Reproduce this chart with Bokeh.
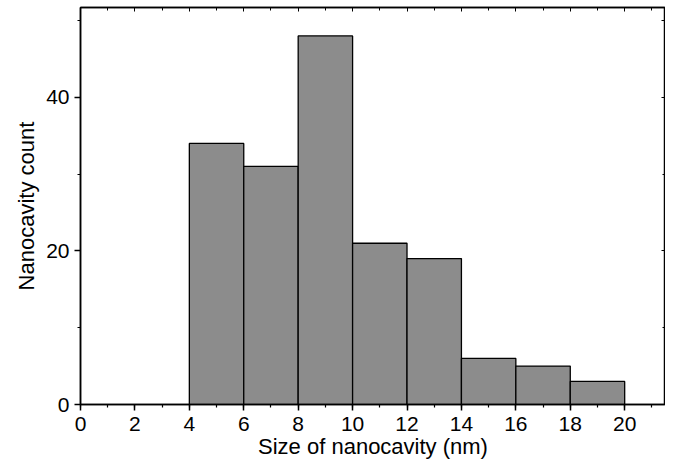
from bokeh.plotting import figure
from bokeh.models import Range1d, LinearAxis, FixedTicker
from bokeh.embed import file_html
from bokeh.resources import INLINE

bin_left = [4, 6, 8, 10, 12, 14, 16, 18]
bin_right = [6, 8, 10, 12, 14, 16, 18, 20]
counts = [34, 31, 48, 21, 19, 6, 5, 3]
x_ticks = [0, 2, 4, 6, 8, 10, 12, 14, 16, 18, 20]
y_ticks = [0, 20, 40]

FONT = "Liberation Sans"

p = figure(width=665, height=461, output_backend="svg", toolbar_location=None,
           x_range=Range1d(0, 21.5), y_range=Range1d(0, 51.7),
           x_axis_label="Size of nanocavity (nm)", y_axis_label="Nanocavity count")
p.min_border_left = 80
p.min_border_right = 0
p.min_border_top = 7
p.min_border_bottom = 0
p.grid.visible = False
p.outline_line_color = "black"
p.outline_line_width = 1.5

p.quad(left=bin_left, right=bin_right, bottom=0, top=counts,
       fill_color="#8c8c8c", line_color="black", line_width=1.3)

for ax in [p.xaxis[0], p.yaxis[0]]:
    ax.axis_line_width = 1.5
    ax.major_tick_line_width = 1.5
    ax.minor_tick_line_width = 1.2
    ax.major_tick_out = 6
    ax.major_tick_in = 0
    ax.minor_tick_out = 3
    ax.minor_tick_in = 0
    ax.major_label_text_font = FONT
    ax.major_label_text_font_size = "21px"
    ax.major_label_text_color = "black"
    ax.axis_label_text_font = FONT
    ax.axis_label_text_font_size = "22px"
    ax.axis_label_text_font_style = "normal"
    ax.axis_label_text_color = "black"

p.xaxis[0].ticker = FixedTicker(ticks=x_ticks, minor_ticks=list(range(0, 22)))
p.yaxis[0].ticker = FixedTicker(ticks=y_ticks, minor_ticks=[0, 10, 20, 30, 40, 50])
p.xaxis[0].major_label_standoff = 6
p.yaxis[0].major_label_standoff = 5
p.xaxis[0].axis_label_standoff = 0
p.yaxis[0].axis_label_standoff = 4

top = LinearAxis(ticker=FixedTicker(ticks=x_ticks, minor_ticks=list(range(0, 22))))
right = LinearAxis(ticker=FixedTicker(ticks=y_ticks + [50], minor_ticks=[0, 10, 20, 30, 40, 50]))
for ax, tk in [(top, x_ticks), (right, y_ticks + [50])]:
    ax.major_label_overrides = {t: "" for t in tk}
    ax.major_label_text_font_size = "1px"
    ax.axis_line_width = 1.5
    ax.major_tick_out = 0
    ax.major_tick_in = 4
    ax.minor_tick_out = 0
    ax.minor_tick_in = 3
    ax.major_label_standoff = 0
p.add_layout(top, "above")
p.add_layout(right, "right")

open("out.html", "w").write(file_html(p, INLINE))
